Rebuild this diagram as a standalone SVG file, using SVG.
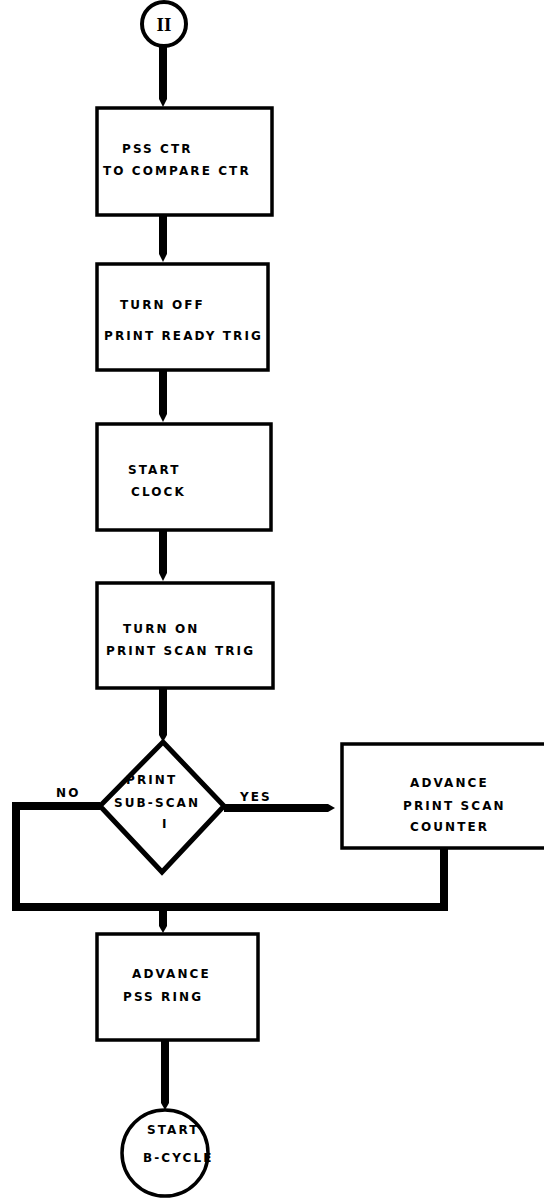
<svg xmlns="http://www.w3.org/2000/svg" width="544" height="1198" viewBox="0 0 544 1198">
<style>
.box{fill:#fff;stroke:#000;stroke-width:3.5}
.t{font-family:"DejaVu Sans",sans-serif;font-weight:bold;font-size:12px;letter-spacing:2.1px;fill:#000}
.bar{fill:#000}
.loop{fill:none;stroke:#000;stroke-width:8;stroke-linejoin:miter}
</style>
<rect width="544" height="1198" fill="#fff"/>
<g id="connectors">
<path class="bar" d="M159,46 H167 V99 L163,107 L159,99 Z"/>
<path class="bar" d="M159,215 H167 V254 L163,262 L159,254 Z"/>
<path class="bar" d="M159,370 H167 V414 L163,422 L159,414 Z"/>
<path class="bar" d="M159,530 H167 V573 L163,581 L159,573 Z"/>
<path class="bar" d="M159,688 H167 V735 L163,742 L159,735 Z"/>
<path class="bar" d="M224,804 H328 L335,808 L328,812 H224 Z"/>
<path class="loop" d="M100,806 H16 V907 H444 V848"/>
<path class="bar" d="M159,910 H167 V926 L163,933 L159,926 Z"/>
<path class="bar" d="M161,1040 H169 V1103 L165,1110 L161,1103 Z"/>
</g>
<g id="n-start">
<circle cx="164" cy="24" r="22" fill="#fff" stroke="#000" stroke-width="4"/>
<text x="164" y="31" text-anchor="middle" font-family="Liberation Serif,serif" font-weight="bold" font-size="19">II</text>
</g>
<g id="n1">
<rect class="box" x="97" y="108" width="175" height="107"/>
<text class="t" x="122" y="153">PSS CTR</text>
<text class="t" x="103" y="175">TO COMPARE CTR</text>
</g>
<g id="n2">
<rect class="box" x="97" y="264" width="171" height="106"/>
<text class="t" x="120" y="309">TURN OFF</text>
<text class="t" x="104" y="340">PRINT READY TRIG</text>
</g>
<g id="n3">
<rect class="box" x="97" y="424" width="174" height="106"/>
<text class="t" x="128" y="474">START</text>
<text class="t" x="131" y="496">CLOCK</text>
</g>
<g id="n4">
<rect class="box" x="97" y="583" width="176" height="105"/>
<text class="t" x="123" y="633">TURN ON</text>
<text class="t" x="106" y="655">PRINT SCAN TRIG</text>
</g>
<g id="n-decision">
<polygon points="163,742 224,806 162,872 100,806" fill="#fff" stroke="#000" stroke-width="5"/>
<text class="t" x="126" y="784">PRINT</text>
<text class="t" x="114" y="807">SUB-SCAN</text>
<text class="t" x="162" y="828">I</text>
<text class="t" x="56" y="797">NO</text>
<text class="t" x="240" y="801">YES</text>
</g>
<g id="n-counter">
<rect class="box" x="342" y="744" width="205" height="104"/>
<text class="t" x="410" y="787">ADVANCE</text>
<text class="t" x="403" y="810">PRINT SCAN</text>
<text class="t" x="410" y="831">COUNTER</text>
</g>
<g id="n5">
<rect class="box" x="97" y="934" width="161" height="106"/>
<text class="t" x="132" y="978">ADVANCE</text>
<text class="t" x="123" y="1001">PSS RING</text>
</g>
<g id="n-end">
<circle cx="165" cy="1153" r="43" fill="#fff" stroke="#000" stroke-width="3.5"/>
<text class="t" x="147" y="1134">START</text>
<text class="t" x="143" y="1162">B-CYCLE</text>
</g>
</svg>
